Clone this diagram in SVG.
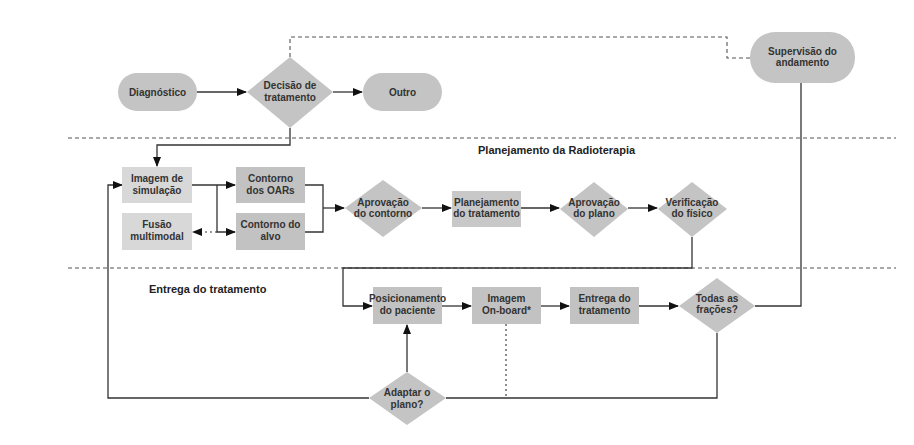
<svg xmlns="http://www.w3.org/2000/svg" width="914" height="445" viewBox="0 0 914 445">
<defs>
<marker id="ah" markerWidth="10" markerHeight="8" refX="9" refY="4" orient="auto" markerUnits="userSpaceOnUse">
<path d="M0,0 L10,4 L0,8 Z" fill="#111"/>
</marker>
<style>
text{font-family:"Liberation Sans",Arial,sans-serif;font-weight:bold;font-size:10px;fill:#333;text-anchor:middle}
.lbl{font-size:11px;text-anchor:start;fill:#222}
.pill{fill:#c4c4c4}
.dia{fill:#c4c4c4}
.lt{fill:#d8d8d8}
.dk{fill:#c2c2c2}
.md{fill:#c8c8c8}
.ln{fill:none;stroke:#333;stroke-width:1.3}
.ar{marker-end:url(#ah)}
.ds{fill:none;stroke:#555;stroke-width:1.1;stroke-dasharray:4,3}
.dt{fill:none;stroke:#333;stroke-width:1.1;stroke-dasharray:2,3}
</style>
</defs>
<rect width="914" height="445" fill="#fff"/>
<g id="separators">
<line class="ds" x1="68" y1="138" x2="896" y2="138"/>
<line class="ds" x1="68" y1="268" x2="896" y2="268"/>
<text class="lbl" x="478" y="154">Planejamento da Radioterapia</text>
<text class="lbl" x="149" y="293">Entrega do tratamento</text>
</g>
<g id="connectors">
<path class="ds" d="M290,57 V37 H727 V58 H750"/>
<path class="ln ar" d="M197,92 H246"/>
<path class="ln ar" d="M333,92 H362"/>
<path class="ln ar" d="M290,128 V145 H157 V166"/>
<path class="ln ar" d="M192,185 H235"/>
<path class="ln ar" d="M217,185 V232 H235"/>
<path class="dt ar" d="M217,232 H193"/>
<path class="ln" d="M305,185 H323 V232 H305"/>
<path class="ln ar" d="M323,208 H344"/>
<path class="ln ar" d="M422,208 H451"/>
<path class="ln ar" d="M521,208 H559"/>
<path class="ln ar" d="M628,208 H657"/>
<path class="ln ar" d="M692,237 V268 H343 V306 H372"/>
<path class="ln ar" d="M442,306 H471"/>
<path class="ln ar" d="M541,306 H569"/>
<path class="ln ar" d="M639,306 H678"/>
<path class="ln" d="M755,306 H801 V83"/>
<path class="ln" d="M717,333 V398 H446"/>
<path class="ln ar" d="M369,398 H108 V185 H122"/>
<path class="ln ar" d="M407,372 V325"/>
<path class="dt" d="M506,324 V398"/>
</g>
<g id="diagnostico"><rect class="pill" x="118" y="73" width="79" height="38" rx="19"/><text x="157.5" y="95.5">Diagnóstico</text></g>
<g id="decisao"><polygon class="dia" points="290,57 333,92 290,128 247,92"/><text x="290" y="89">Decisão de</text><text x="290" y="101">tratamento</text></g>
<g id="outro"><rect class="pill" x="363" y="73" width="79" height="38" rx="19"/><text x="402.5" y="95.5">Outro</text></g>
<g id="supervisao"><rect class="pill" x="750" y="32" width="105" height="51" rx="25"/><text x="802.5" y="55">Supervisão do</text><text x="802.5" y="66">andamento</text></g>
<g id="imagem-simulacao"><rect class="lt" x="122" y="167" width="70" height="36"/><text x="157" y="182">Imagem de</text><text x="157" y="194">simulação</text></g>
<g id="fusao"><rect class="lt" x="122" y="213" width="70" height="37"/><text x="157" y="228">Fusão</text><text x="157" y="240">multimodal</text></g>
<g id="contorno-oars"><rect class="dk" x="236" y="167" width="69" height="36"/><text x="270.5" y="182">Contorno</text><text x="270.5" y="194">dos OARs</text></g>
<g id="contorno-alvo"><rect class="dk" x="236" y="213" width="69" height="37"/><text x="270.5" y="228">Contorno do</text><text x="270.5" y="240">alvo</text></g>
<g id="aprovacao-contorno"><polygon class="dia" points="383,180 422,208 383,237 345,208"/><text x="383" y="206" font-size="8.8">Aprovação</text><text x="383" y="217" font-size="8.8">do contorno</text></g>
<g id="planejamento"><rect class="md" x="452" y="191" width="69" height="36"/><text x="486.5" y="206" font-size="8.8">Planejamento</text><text x="486.5" y="217" font-size="8.8">do tratamento</text></g>
<g id="aprovacao-plano"><polygon class="dia" points="594,182 628,209 594,237 560,209"/><text x="594" y="206" font-size="8.8">Aprovação</text><text x="594" y="217" font-size="8.8">do plano</text></g>
<g id="verificacao"><polygon class="dia" points="692,182 727,209 692,237 658,209"/><text x="692" y="206" font-size="8.8">Verificação</text><text x="692" y="217" font-size="8.8">do físico</text></g>
<g id="posicionamento"><rect class="dk" x="373" y="287" width="69" height="37"/><text x="407.5" y="302" font-size="8.5">Posicionamento</text><text x="407.5" y="314" font-size="8.8">do paciente</text></g>
<g id="imagem-onboard"><rect class="dk" x="472" y="287" width="69" height="37"/><text x="506.5" y="302">Imagem</text><text x="506.5" y="314">On-board*</text></g>
<g id="entrega"><rect class="dk" x="570" y="287" width="69" height="37"/><text x="604.5" y="302">Entrega do</text><text x="604.5" y="314">tratamento</text></g>
<g id="todas-fracoes"><polygon class="dia" points="717,278 755,306 717,333 679,306"/><text x="717" y="302">Todas as</text><text x="717" y="313">frações?</text></g>
<g id="adaptar"><polygon class="dia" points="407,372 446,398 407,425 369,398"/><text x="407" y="396">Adaptar o</text><text x="407" y="408">plano?</text></g>
</svg>
